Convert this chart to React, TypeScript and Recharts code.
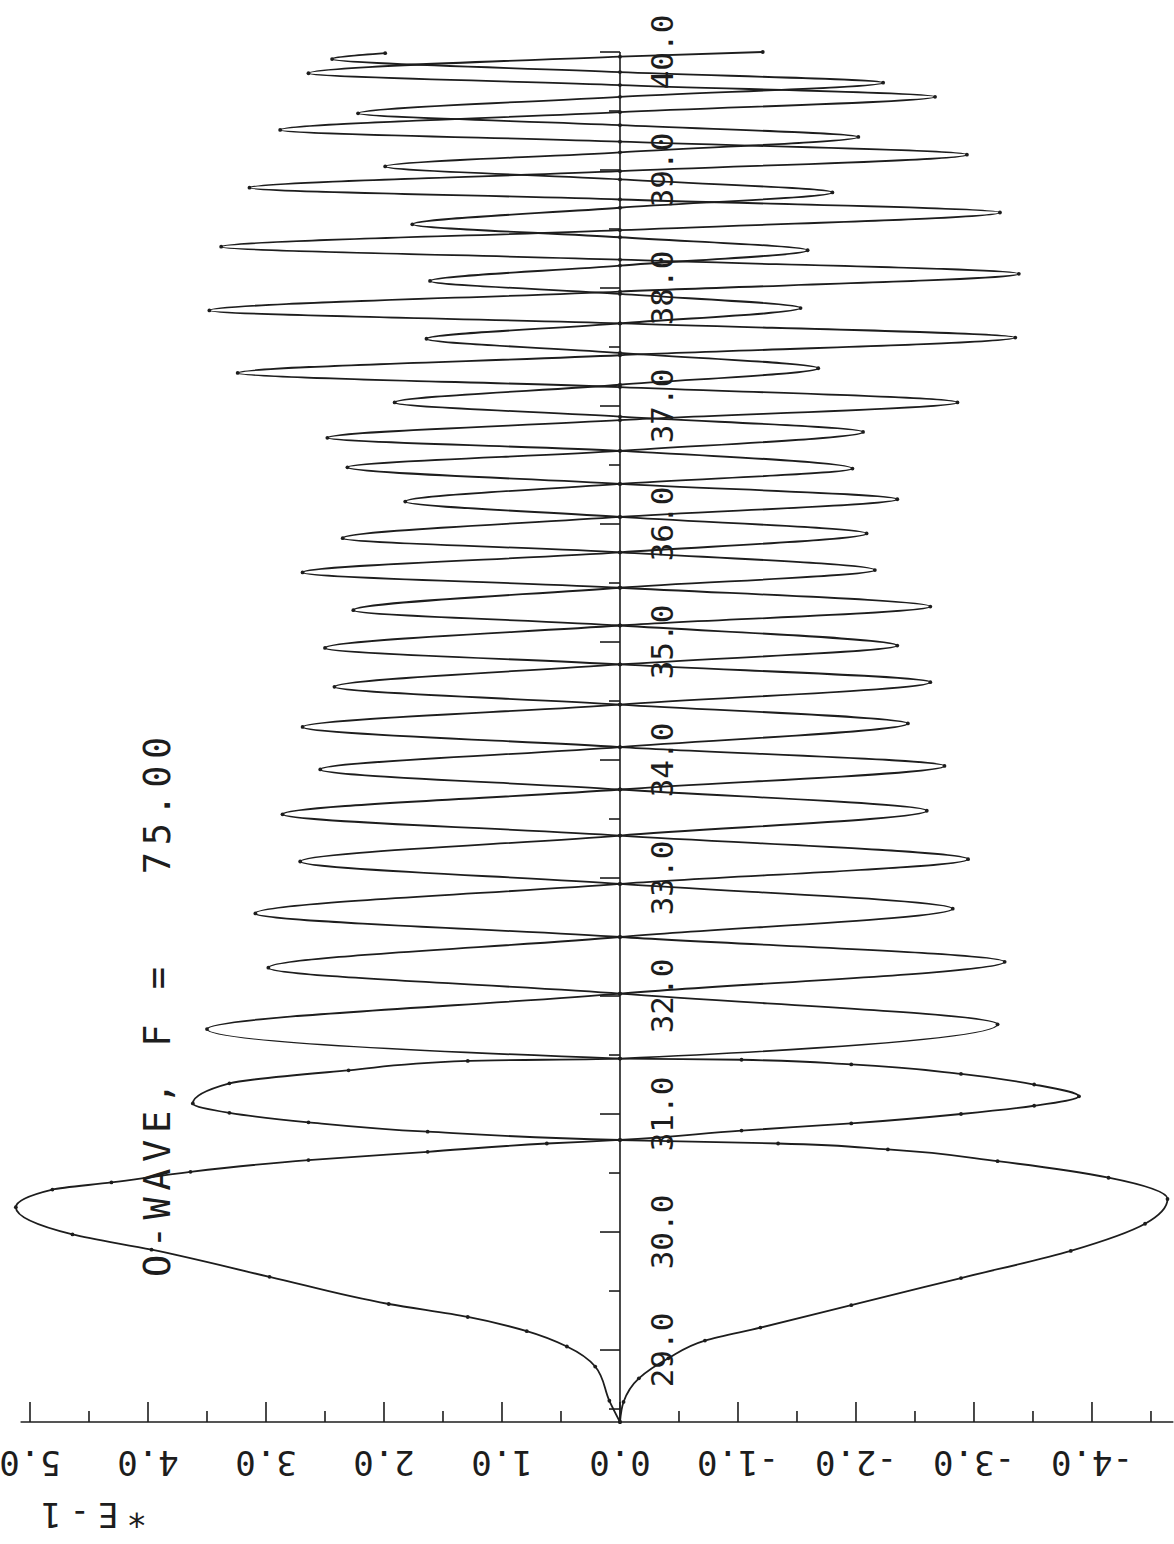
import React from "react";
import { LineChart, Line, XAxis, YAxis, ReferenceLine, ReferenceDot } from "recharts";

// two traces leaving the cusp at the bottom; distance (vertical) vs field *E-1 (horizontal)
const waveADist = [
  28.39, 28.57, 28.86, 29.03, 29.16, 29.28, 29.39, 29.62, 29.85, 29.98, 30.21,
  30.36, 30.42, 30.51, 30.61, 30.68, 30.75, 30.78, 30.86, 30.92, 31.0, 31.07,
  31.15, 31.25, 31.34, 31.42, 31.46, 31.47, 31.72, 32.02, 32.29, 32.5, 32.7,
  32.95, 33.16, 33.36, 33.54, 33.75, 33.95, 34.11, 34.28, 34.47, 34.66, 34.81,
  34.95, 35.14, 35.3, 35.46, 35.59, 35.76, 35.92, 36.06, 36.19, 36.34, 36.47,
  36.62, 36.73, 36.88, 37.03, 37.16, 37.28, 37.43, 37.58, 37.7, 37.81, 37.97,
  38.12, 38.24, 38.35, 38.49, 38.64, 38.75, 38.85, 38.99, 39.13, 39.24, 39.34,
  39.49, 39.62, 39.72, 39.82, 39.96, 40.0,
];
const waveAField = [
  0, 0.09, 0.21, 0.45, 0.79, 1.29, 1.96, 2.97, 3.97, 4.64, 5.12,
  4.81, 4.31, 3.64, 2.64, 1.63, 0.62, 0, -1.03, -1.96, -2.89, -3.51,
  -3.89, -3.51, -2.89, -1.96, -1.03, 0, 3.5, 0, -3.26, 0, 3.09,
  0, -2.95, 0, 2.86, 0, -2.75, 0, 2.69, 0, -2.63, 0,
  2.5, 0, -2.63, 0, 2.69, 0, -2.09, 0, 1.82, 0, -1.97,
  0, 2.48, 0, -2.86, 0, 3.24, 0, -3.35, 0, 3.48, 0,
  -3.38, 0, 3.38, 0, -3.22, 0, 3.14, 0, -2.94, 0, 2.88,
  0, -2.67, 0, 2.64, 0, -1.21,
];
const waveBDist = [
  28.39, 28.56, 28.76, 28.93, 29.08, 29.19, 29.38, 29.61, 29.84, 30.07, 30.28,
  30.46, 30.6, 30.7, 30.75, 30.77, 30.78, 30.85, 30.93, 31.01, 31.09, 31.26,
  31.37, 31.45, 31.47, 31.76, 32.02, 32.24, 32.5, 32.74, 32.95, 33.14, 33.36,
  33.57, 33.75, 33.92, 34.11, 34.31, 34.47, 34.62, 34.81, 34.97, 35.14, 35.27,
  35.46, 35.61, 35.76, 35.88, 36.06, 36.21, 36.34, 36.48, 36.62, 36.78, 36.91,
  37.03, 37.18, 37.32, 37.45, 37.57, 37.7, 37.83, 37.95, 38.06, 38.19, 38.32,
  38.43, 38.54, 38.68, 38.81, 38.92, 39.03, 39.15, 39.28, 39.38, 39.48, 39.62,
  39.74, 39.83, 39.94, 39.99,
];
const waveBField = [
  0, -0.03, -0.16, -0.41, -0.72, -1.19, -1.96, -2.89, -3.82, -4.45, -4.64,
  -4.14, -3.2, -2.27, -1.34, -0.41, 0, 1.63, 2.64, 3.31, 3.62, 3.31,
  2.3, 1.29, 0, -3.2, 0, 2.98, 0, -2.82, 0, 2.71, 0,
  -2.6, 0, 2.54, 0, -2.44, 0, 2.42, 0, -2.35, 0, 2.26,
  0, -2.16, 0, 2.35, 0, -2.35, 0, 2.31, 0, -2.06, 0,
  1.91, 0, -1.68, 0, 1.64, 0, -1.53, 0, 1.61, 0, -1.59,
  0, 1.76, 0, -1.8, 0, 1.99, 0, -2.02, 0, 2.22, 0,
  -2.23, 0, 2.44, 1.99,
];

const fieldTicks = [-4.5, -4, -3.5, -3, -2.5, -2, -1.5, -1, -0.5, 0, 0.5, 1, 1.5, 2, 2.5, 3, 3.5, 4, 4.5, 5];
const distTicks = [
  28.5, 29, 29.5, 30, 30.5, 31, 31.5, 32, 32.5, 33, 33.5, 34, 34.5,
  35, 35.5, 36, 36.5, 37, 37.5, 38, 38.5, 39, 39.5, 40,
];
const title = "O-WAVE, F =   75.00";
const exponentLabel = "*E-1";

const W = 1174;
const H = 1544;
const INK = "#1d1d1d";
const FONT = '"DejaVu Sans Mono", monospace';

const zip = (ds: number[], vs: number[]) => ds.map((d, i) => ({ d, v: vs[i] }));
const waveA = zip(waveADist, waveAField);
const waveB = zip(waveBDist, waveBField);

function FieldTick(props: any) {
  const { x, y, payload } = props;
  const v = payload.value as number;
  const major = Number.isInteger(v);
  const ly = y + 41;
  return (
    <g>
      <line x1={x} x2={x} y1={y} y2={y - (major ? 20 : 11)} stroke={INK} strokeWidth={1.6} />
      {major && (
        <text
          x={x}
          y={ly}
          transform={`rotate(180 ${x} ${ly})`}
          textAnchor="middle"
          dominantBaseline="central"
          fontFamily={FONT}
          fontSize={34}
          fill={INK}
        >
          {v.toFixed(1)}
        </text>
      )}
    </g>
  );
}

const distTick = (t: number) => (p: any) => {
  const { cx, cy } = p;
  const major = Number.isInteger(t);
  const lx = cx + 42;
  return (
    <g>
      <line x1={cx} x2={cx - (major ? 20 : 11)} y1={cy} y2={cy} stroke={INK} strokeWidth={1.6} />
      {major && (
        <text
          x={lx}
          y={cy}
          transform={`rotate(-90 ${lx} ${cy})`}
          textAnchor="middle"
          dominantBaseline="central"
          fontFamily={FONT}
          fontSize={31}
          fill={INK}
        >
          {t.toFixed(1)}
        </text>
      )}
    </g>
  );
};

export default function App() {
  return (
    <div style={{ position: "absolute", left: 0, top: 0, width: W, height: H, background: "#fff" }}>
      <LineChart
        width={W}
        height={H}
        layout="vertical"
        margin={{ top: 46.1, right: 0.6, bottom: 62, left: 14.66 }}
      >
        <XAxis
          type="number"
          domain={[-4.69, 5.13]}
          reversed
          ticks={fieldTicks}
          interval={0}
          tick={(p: any) => <FieldTick {...p} />}
          tickLine={false}
          axisLine={false}
          tickSize={0}
          tickMargin={0}
          height={60}
        />
        <YAxis type="number" dataKey="d" domain={[28.39, 40.05]} reversed hide />
        <ReferenceLine
          segment={[{ x: 5.08, y: 28.39 }, { x: -4.69, y: 28.39 }]}
          stroke={INK}
          strokeWidth={1.6}
          ifOverflow="visible"
        />
        <ReferenceLine
          segment={[{ x: 0, y: 28.39 }, { x: 0, y: 40 }]}
          stroke={INK}
          strokeWidth={1.6}
          ifOverflow="visible"
        />
        {distTicks.map((t) => (
          <ReferenceDot key={t} x={0} y={t} r={0} ifOverflow="visible" shape={distTick(t)} />
        ))}
        <Line
          data={waveA}
          dataKey="v"
          type="monotoneY"
          stroke={INK}
          strokeWidth={1.8}
          dot={{ r: 1.9, fill: INK, stroke: "none" }}
          activeDot={false}
          isAnimationActive={false}
        />
        <Line
          data={waveB}
          dataKey="v"
          type="monotoneY"
          stroke={INK}
          strokeWidth={1.8}
          dot={{ r: 1.9, fill: INK, stroke: "none" }}
          activeDot={false}
          isAnimationActive={false}
        />
      </LineChart>
      <svg
        width={W}
        height={H}
        style={{ position: "absolute", left: 0, top: 0, pointerEvents: "none" }}
      >
        <text
          x={157}
          y={1277}
          transform="rotate(-90 157 1277)"
          dominantBaseline="central"
          fontFamily={FONT}
          fontSize={37}
          letterSpacing={6.5}
          fill={INK}
          style={{ whiteSpace: "pre" }}
        >
          {title}
        </text>
        <text
          x={90}
          y={1515}
          transform="rotate(180 90 1515)"
          textAnchor="middle"
          dominantBaseline="central"
          fontFamily={FONT}
          fontSize={34}
          letterSpacing={8}
          fill={INK}
        >
          {exponentLabel}
        </text>
      </svg>
    </div>
  );
}
